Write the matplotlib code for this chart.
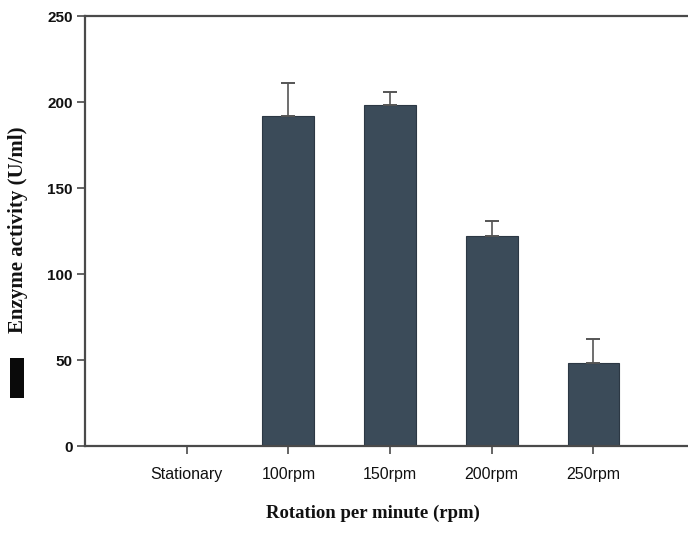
import matplotlib
matplotlib.use("Agg")
import matplotlib.pyplot as plt
from matplotlib.patches import Rectangle

categories = ["Stationary", "100rpm", "150rpm", "200rpm", "250rpm"]
activity = [0, 192, 198, 122, 48]
activity_err = [0, 19, 8, 9, 14]
y_ticks = [0, 50, 100, 150, 200, 250]

bar_color = "#3b4b59"
axis_color = "#4a4a4a"

fig = plt.figure(figsize=(6.88, 5.39), dpi=100)
ax = fig.add_axes([85 / 688, 1 - 446 / 539, 603 / 688, 430 / 539])

x = list(range(len(categories)))
ax.bar(x, activity, width=0.51, color=bar_color, edgecolor="#2c3844", linewidth=0.8,
       yerr=[[0] * len(activity_err), activity_err], ecolor="#555555",
       error_kw=dict(elinewidth=1.2, capsize=5, capthick=1.4), zorder=2)

ax.set_xlim(-1.0, 4.93)
ax.set_ylim(0, 250)
ax.set_yticks(y_ticks)
ax.set_xticks(x)
ax.set_xticklabels(categories)

for side in ["left", "bottom", "top"]:
    ax.spines[side].set_color(axis_color)
    ax.spines[side].set_linewidth(1.6)
ax.spines["right"].set_visible(False)

ax.tick_params(axis="both", direction="out", length=6, width=1.2, color=axis_color,
               labelcolor="#111111", pad=3)
ax.tick_params(axis="x", pad=9, labelsize=11.5)
ax.tick_params(axis="y", labelsize=11)
for lbl in ax.get_xticklabels() + ax.get_yticklabels():
    lbl.set_fontfamily("Liberation Sans")
for lbl in ax.get_yticklabels():
    lbl.set_fontweight("bold")

fig.text(18 / 688, 1 - 230 / 539, "Enzyme activity (U/ml)", rotation=90,
         ha="center", va="center", fontsize=15, fontweight="bold",
         family="Liberation Serif", color="#111111")
fig.text(373 / 688, 1 - 513 / 539, "Rotation per minute (rpm)",
         ha="center", va="center", fontsize=13.5, fontweight="bold",
         family="Liberation Serif", color="#111111")

# legend swatch
fig.patches.append(Rectangle((10 / 688, 1 - 398 / 539), 14 / 688, 40 / 539,
                             transform=fig.transFigure, facecolor="#0a0a0a",
                             edgecolor="none"))

fig.savefig("out.png", dpi=100)
